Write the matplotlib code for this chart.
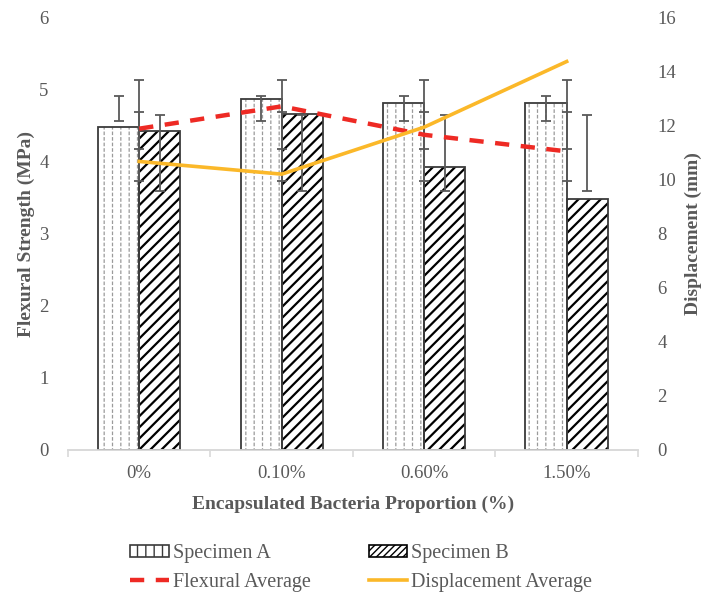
import numpy as np
import matplotlib.pyplot as plt
from matplotlib.patches import Patch
from matplotlib.lines import Line2D

categories = ['0%', '0.10%', '0.60%', '1.50%']
specimen_a = [4.49, 4.87, 4.82, 4.81]
specimen_b = [4.43, 4.67, 3.93, 3.48]
flexural_avg = [4.46, 4.77, 4.375, 4.145]
displacement_avg = [10.68, 10.21, 11.95, 14.38]

# error bars as drawn in the original (low / high, MPa)
err_a_low = [4.57, 4.57, 4.57, 4.57]
err_a_high = [4.92, 4.92, 4.92, 4.92]
err_b_low = [3.59, 3.59, 3.59, 3.59]
err_b_high = [4.65, 4.65, 4.65, 4.65]
err_c1_low = [4.18, 4.18, 4.18, 4.18]
err_c1_high = [5.14, 5.14, 5.14, 5.14]
err_c2_low = [3.73, 3.73, 3.73, 3.73]
err_c2_high = [4.69, 4.69, 4.69, 4.69]

plt.rcParams['font.family'] = ['Liberation Serif', 'DejaVu Serif']
gray = '#595959'
edge = '#3a3a3a'
red = '#ee2a24'
yellow = '#fbb829'

fig = plt.figure(figsize=(7.01, 5.92), dpi=100)
ax = fig.add_axes([0.097, 0.240, 0.813, 0.730])
ax2 = ax.twinx()

x = np.arange(len(categories))
w = 0.29
off = 0.144

# specimen A: light gray vertical lines broken into dashes by a white overlay
with plt.rc_context({'hatch.linewidth': 0.9}):
    ax.bar(x - off, specimen_a, w, color='white', edgecolor='#9a9a9a', hatch='||', linewidth=0, zorder=2)
with plt.rc_context({'hatch.linewidth': 1.4}):
    ax.bar(x - off, specimen_a, w, color='none', edgecolor='white', hatch='---', linewidth=0, zorder=2.1)
with plt.rc_context({'hatch.linewidth': 1.6}):
    ax.bar(x + off, specimen_b, w, color='white', edgecolor='black', hatch='///', linewidth=0, zorder=2)
ax.bar(x - off, specimen_a, w, color='none', edgecolor=edge, linewidth=1.3, zorder=3)
ax.bar(x + off, specimen_b, w, color='none', edgecolor=edge, linewidth=1.3, zorder=3)


def draw_err(xs, lo, hi):
    lo = np.array(lo)
    hi = np.array(hi)
    ax.errorbar(xs, (lo + hi) / 2, yerr=(hi - lo) / 2, fmt='none', ecolor=gray,
                elinewidth=1.3, capsize=3.5, capthick=1.3, zorder=4)


draw_err(x - off, err_a_low, err_a_high)
draw_err(x + off, err_b_low, err_b_high)
draw_err(x, err_c1_low, err_c1_high)
draw_err(x, err_c2_low, err_c2_high)

ax.plot(x, flexural_avg, color=red, linewidth=3.2, dashes=(3.2, 2.6), zorder=5)
ax2.plot(x, displacement_avg, color=yellow, linewidth=2.6, zorder=5)

ax.set_xlim(-0.5, 3.5)
ax.set_ylim(0, 6)
ax2.set_ylim(0, 16)
ax.set_yticks(range(0, 7))
ax2.set_yticks(range(0, 17, 2))
ax.set_xticks(x)
ax.set_xticklabels(categories)
ax.set_xticks(np.arange(-0.5, 4.0, 1.0), minor=True)

for a in (ax, ax2):
    for s in ('top', 'left', 'right'):
        a.spines[s].set_visible(False)
    a.spines['bottom'].set_color('#d9d9d9')
    a.spines['bottom'].set_linewidth(1.2)
ax.tick_params(axis='x', which='major', length=0, pad=11, labelsize=13.5, labelcolor=gray)
ax.tick_params(axis='x', which='minor', length=5, color='#d9d9d9', width=1.2)
ax.tick_params(axis='y', length=0, pad=14, labelsize=13.5, labelcolor=gray)
ax2.tick_params(axis='y', length=0, pad=14, labelsize=13.5, labelcolor=gray)

ax.set_xlabel('Encapsulated Bacteria Proportion (%)', fontsize=14, fontweight='bold', color=gray, labelpad=10)
ax.set_ylabel('Flexural Strength (MPa)', fontsize=14, fontweight='bold', color=gray, labelpad=3)
ax2.set_ylabel('Displacement (mm)', fontsize=14, fontweight='bold', color=gray, labelpad=6)

h_a = Patch(facecolor='white', edgecolor=edge, hatch='||', linewidth=1.2)
h_b = Patch(facecolor='white', edgecolor='black', hatch='/////', linewidth=1.2)
h_f = Line2D([], [], color=red, linewidth=3.2, dashes=(3.2, 2.6))
h_d = Line2D([], [], color=yellow, linewidth=2.6)
leg = fig.legend([h_a, h_f, h_b, h_d],
                 ['Specimen A', 'Flexural Average', 'Specimen B', 'Displacement Average'],
                 ncol=2, frameon=False, loc='upper left', bbox_to_anchor=(0.186, 0.081),
                 fontsize=14.5, handlelength=1.9, handleheight=0.6, handletextpad=0.2,
                 columnspacing=2.9, labelspacing=0.5, borderaxespad=0, borderpad=0)
for t in leg.get_texts():
    t.set_color(gray)

fig.savefig('out.png', dpi=100)
